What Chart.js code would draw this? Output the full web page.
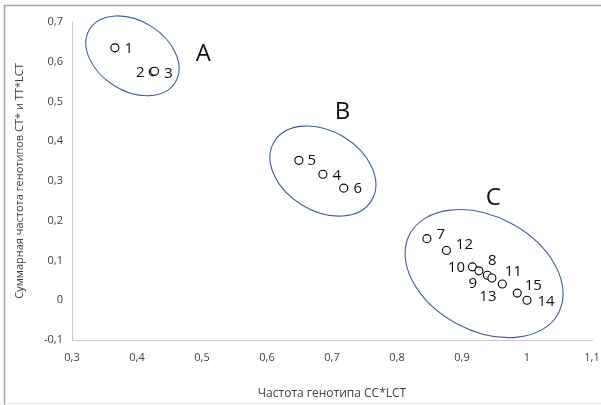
<!DOCTYPE html>
<html>
<head>
<meta charset="utf-8">
<script src="https://cdn.jsdelivr.net/npm/chart.js@4/dist/chart.umd.min.js"></script>
<style>
html,body{margin:0;padding:0;background:#fff;}
#wrap{position:relative;width:601px;height:405px;}
canvas{display:block;}
</style>
</head>
<body>
<div id="wrap"><canvas id="c" width="601" height="405"></canvas></div>
<script>
// ---- data ----
const pointLabels = ['1','2','3','5','4','6','7','12','10','9','8','13','11','15','14'];
const xValues = [0.366,0.425,0.427,0.649,0.686,0.718,0.846,0.876,0.916,0.926,0.939,0.946,0.962,0.985,1.000];
const yValues = [0.635,0.575,0.576,0.352,0.317,0.282,0.155,0.125,0.084,0.074,0.063,0.056,0.041,0.018,0.000];
const xTickLabels = ['0,3','0,4','0,5','0,6','0,7','0,8','0,9','1','1,1'];
const yTickLabels = ['-0,1','0','0,1','0,2','0,3','0,4','0,5','0,6','0,7'];
const groupNames = ['A','B','C'];
const groupCenterX = [0.393,0.686,0.934];
const groupCenterY = [0.615,0.325,0.067];
const groupLetterX = [0.502,0.716,0.948];
const groupLetterY = [0.618,0.474,0.256];
// ellipse semi-axes in x-axis units, rotation in degrees
const ellipseMajor = [0.0775,0.0875,0.1295];
const ellipseMinor = [0.0538,0.0615,0.0877];
const ellipseAngle = [32,31,28];

// label text offsets (px) relative to the marker (text centre)
const labelOffsets = {
  '1':[14,1], '2':[-13,1], '3':[14,2], '5':[13,0], '4':[14,1], '6':[14,1],
  '7':[14,-4], '12':[18,-6], '10':[-16,1], '9':[-6,13], '8':[5,-14],
  '13':[-4,19], '11':[11,-12], '15':[16,-7], '14':[19,1]
};

const points = xValues.map((x,i)=>({x:x,y:yValues[i]}));
const FONT = "'Open Sans', 'Liberation Sans', sans-serif";

const overlay = {
  id:'overlay',
  beforeDraw(chart){
    const ctx=chart.ctx;
    ctx.save();
    ctx.fillStyle='#fff';
    ctx.fillRect(0,0,chart.width,chart.height);
    ctx.strokeStyle='#b0a29c';
    ctx.lineWidth=1.5;
    ctx.beginPath();
    ctx.moveTo(4.5,405);ctx.lineTo(4.5,5.5);ctx.lineTo(601,5.5);
    ctx.stroke();
    ctx.strokeStyle='#ece8e6';
    ctx.lineWidth=1;
    ctx.beginPath();ctx.moveTo(4,403.5);ctx.lineTo(601,403.5);ctx.stroke();
    ctx.restore();
  },
  afterDatasetsDraw(chart){
    const ctx=chart.ctx, xs=chart.scales.x, ys=chart.scales.y;
    const pxPerX = xs.getPixelForValue(1)-xs.getPixelForValue(0);
    ctx.save();
    ctx.strokeStyle='#3f5f98';
    ctx.lineWidth=1.1;
    for(let i=0;i<groupNames.length;i++){
      const cx=xs.getPixelForValue(groupCenterX[i]);
      const cy=ys.getPixelForValue(groupCenterY[i]);
      ctx.beginPath();
      ctx.ellipse(cx,cy,ellipseMajor[i]*pxPerX,ellipseMinor[i]*pxPerX,ellipseAngle[i]*Math.PI/180,0,Math.PI*2);
      ctx.stroke();
    }
    ctx.fillStyle='#111';
    ctx.font='24px '+FONT;
    ctx.textAlign='center';ctx.textBaseline='middle';
    for(let i=0;i<groupNames.length;i++){
      ctx.fillText(groupNames[i],xs.getPixelForValue(groupLetterX[i]),ys.getPixelForValue(groupLetterY[i]));
    }
    ctx.font='15px '+FONT;
    ctx.textBaseline='middle';
    ctx.textAlign='center';
    const meta=chart.getDatasetMeta(0);
    meta.data.forEach((el,i)=>{
      const lab=pointLabels[i];
      const o=labelOffsets[lab]||[12,0];
      ctx.fillText(lab,el.x+o[0],el.y+o[1]);
    });
    ctx.restore();
  }
};

new Chart(document.getElementById('c'),{
  type:'scatter',
  data:{datasets:[{
    data:points,
    pointStyle:'circle',
    pointRadius:4,
    pointBackgroundColor:'#ffffff',
    pointBorderColor:'#000000',
    pointBorderWidth:1.1
  }]},
  options:{
    responsive:false,
    animation:false,
    devicePixelRatio:1,
    layout:{padding:{top:22,right:0,left:0,bottom:0}},
    plugins:{legend:{display:false},tooltip:{enabled:false}},
    scales:{
      x:{
        type:'linear',min:0.3,max:1.1,
        afterFit(s){s.height=65;s.paddingRight=9;s.paddingLeft=0;},
        grid:{display:false,drawTicks:true,tickLength:5,tickColor:'#d4c4c4'},
        border:{display:true,color:'#d4c4c4',width:1},
        ticks:{stepSize:0.1,color:'#404040',font:{family:FONT,size:11},padding:6,maxRotation:0,
          callback:(v)=>xTickLabels[Math.round((v-0.3)*10)]},
        title:{display:true,text:'Частота генотипа CC*LCT',color:'#404040',font:{family:FONT,size:12},padding:{top:8}}
      },
      y:{
        type:'linear',min:-0.1,max:0.7,
        afterFit(s){s.width=72;s.paddingTop=0;s.paddingBottom=0;},
        grid:{display:false,drawTicks:true,tickLength:5,tickColor:'#d4c4c4'},
        border:{display:true,color:'#d4c4c4',width:1},
        ticks:{stepSize:0.1,color:'#404040',font:{family:FONT,size:11},padding:4,
          callback:(v)=>yTickLabels[Math.round((v+0.1)*10)]},
        title:{display:true,text:'Суммарная частота генотипов CT* и TT*LCT',color:'#404040',font:{family:FONT,size:11},padding:{top:13,bottom:4}}
      }
    }
  },
  plugins:[overlay]
});
</script>
</body>
</html>
